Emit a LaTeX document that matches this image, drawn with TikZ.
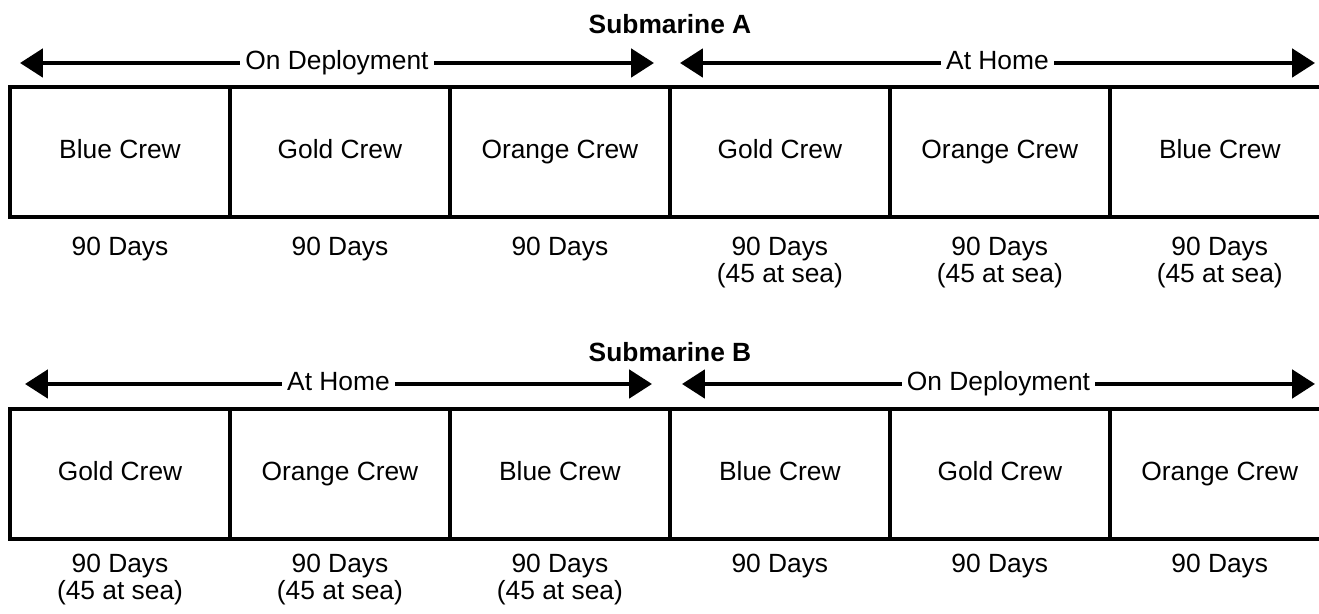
\documentclass[tikz,border=0pt]{standalone}
\usepackage{fontspec}
\setmainfont{Liberation Sans}
\usetikzlibrary{arrows.meta}
\usetikzlibrary{positioning}

\begin{document}
\begin{tikzpicture}[x=0.02cm, y=-0.02cm, node distance=0pt,
  font=\fontsize{15pt}{13.5pt}\selectfont,
  crew/.style={rectangle, draw, line width=2.2pt, minimum width=4.4cm, minimum height=2.6cm, outer sep=0pt, inner sep=0pt, text height=0.72em, text depth=0pt},
  days/.style={inner sep=0pt, align=center},
  span/.style={line width=2.4pt, {Triangle[length=13pt, width=16pt]}-{Triangle[length=13pt, width=16pt]}},
  spanlabel/.style={midway, fill=white, inner xsep=3pt, inner ysep=2pt, text height=0.72em, text depth=0pt}]

  \useasboundingbox (0,0) rectangle (1319,614);

  % --- Submarine A ---
  \node[font=\fontsize{15pt}{13.5pt}\selectfont\bfseries] (titleA) at (670,24) {Submarine A};

  % Crews
  \node[crew] (a1) at (120,152) {Blue Crew};
  \node[crew, right=of a1] (a2) {Gold Crew};
  \node[crew, right=of a2] (a3) {Orange Crew};
  \node[crew, right=of a3] (a4) {Gold Crew};
  \node[crew, right=of a4] (a5) {Orange Crew};
  \node[crew, right=of a5] (a6) {Blue Crew};

  % Days
  \node[days, below=0.4cm of a1] (da1) {90 Days};
  \node[days, below=0.4cm of a2] (da2) {90 Days};
  \node[days, below=0.4cm of a3] (da3) {90 Days};
  \node[days, below=0.4cm of a4] (da4) {90 Days\\(45 at sea)};
  \node[days, below=0.4cm of a5] (da5) {90 Days\\(45 at sea)};
  \node[days, below=0.4cm of a6] (da6) {90 Days\\(45 at sea)};

  % Spans
  \coordinate (a1l) at (20,63);
  \coordinate (a1r) at (654,63);
  \coordinate (a2l) at (680,63);
  \coordinate (a2r) at (1315,63);
  \draw[span] (a1l) -- (a1r) node[spanlabel] {On Deployment};
  \draw[span] (a2l) -- (a2r) node[spanlabel] {At Home};

  % --- Submarine B ---
  \node[font=\fontsize{15pt}{13.5pt}\selectfont\bfseries] (titleB) at (670,352) {Submarine B};

  % Crews
  \node[crew] (b1) at (120,474) {Gold Crew};
  \node[crew, right=of b1] (b2) {Orange Crew};
  \node[crew, right=of b2] (b3) {Blue Crew};
  \node[crew, right=of b3] (b4) {Blue Crew};
  \node[crew, right=of b4] (b5) {Gold Crew};
  \node[crew, right=of b5] (b6) {Orange Crew};

  % Days
  \node[days, below=0.3cm of b1] (db1) {90 Days\\(45 at sea)};
  \node[days, below=0.3cm of b2] (db2) {90 Days\\(45 at sea)};
  \node[days, below=0.3cm of b3] (db3) {90 Days\\(45 at sea)};
  \node[days, below=0.3cm of b4] (db4) {90 Days};
  \node[days, below=0.3cm of b5] (db5) {90 Days};
  \node[days, below=0.3cm of b6] (db6) {90 Days};

  % Spans
  \coordinate (b1l) at (25,384);
  \coordinate (b1r) at (652,384);
  \coordinate (b2l) at (682,384);
  \coordinate (b2r) at (1315,384);
  \draw[span] (b1l) -- (b1r) node[spanlabel] {At Home};
  \draw[span] (b2l) -- (b2r) node[spanlabel] {On Deployment};

\end{tikzpicture}
\end{document}
